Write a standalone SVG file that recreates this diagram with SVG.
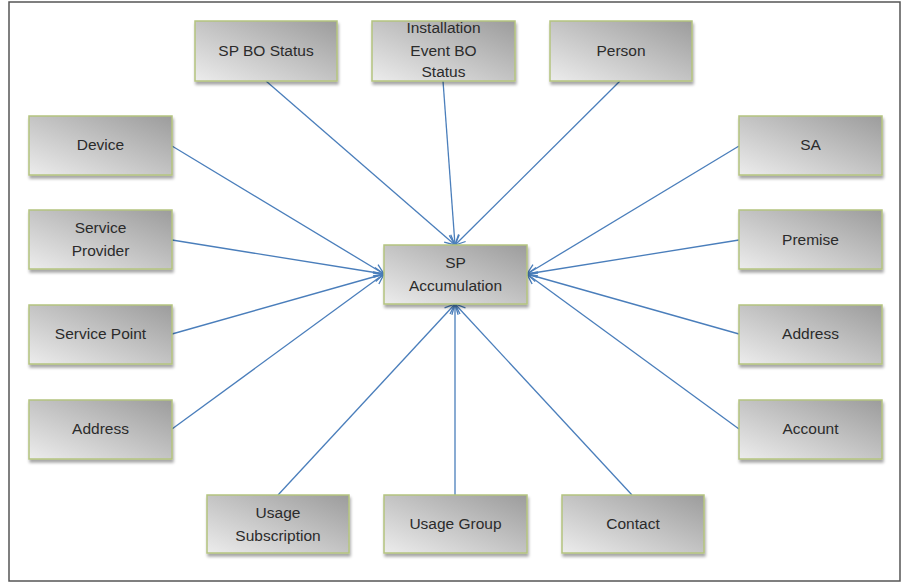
<svg xmlns="http://www.w3.org/2000/svg" width="904" height="583" viewBox="0 0 904 583">
<defs>
<linearGradient id="g" x1="0" y1="1" x2="1" y2="0">
<stop offset="0" stop-color="#ececec"/>
<stop offset="1" stop-color="#9c9c9c"/>
</linearGradient>
<filter id="sh" x="-10%" y="-10%" width="125%" height="135%">
<feDropShadow dx="1" dy="3" stdDeviation="1.5" flood-color="#000" flood-opacity="0.35"/>
</filter>
<marker id="arr" markerWidth="12" markerHeight="12" refX="11" refY="6" orient="auto" markerUnits="userSpaceOnUse">
<path d="M1,1 L11,6 L1,11" fill="none" stroke="#4a7ebb" stroke-width="1.3"/>
</marker>
</defs>
<style>
.box{fill:url(#g);stroke:#b4c47f;stroke-width:1.5;filter:url(#sh)}
.t{font-family:"Liberation Sans",Arial,sans-serif;font-size:15.5px;fill:#2b2b2b;text-anchor:middle}
.c{stroke:#4a7ebb;stroke-width:1.3;fill:none;marker-end:url(#arr)}
</style>
<rect x="0" y="0" width="904" height="583" fill="#fff"/>
<rect x="9" y="2" width="891" height="579" fill="#fff" stroke="#555" stroke-width="1.5"/>
<g id="connectors">
<line class="c" x1="266" y1="81" x2="455" y2="245"/>
<line class="c" x1="443" y1="81" x2="455" y2="245"/>
<line class="c" x1="620" y1="81" x2="455" y2="245"/>
<line class="c" x1="172" y1="146" x2="384" y2="274"/>
<line class="c" x1="172" y1="240" x2="384" y2="274"/>
<line class="c" x1="172" y1="334" x2="384" y2="274"/>
<line class="c" x1="172" y1="429" x2="384" y2="274"/>
<line class="c" x1="739" y1="146" x2="527" y2="274"/>
<line class="c" x1="739" y1="240" x2="527" y2="274"/>
<line class="c" x1="739" y1="334" x2="527" y2="274"/>
<line class="c" x1="739" y1="429" x2="527" y2="274"/>
<line class="c" x1="278" y1="495" x2="455" y2="304"/>
<line class="c" x1="455" y1="495" x2="455" y2="304"/>
<line class="c" x1="632" y1="495" x2="455" y2="304"/>
</g>
<g id="sp-accumulation"><rect class="box" x="384" y="245" width="143" height="59"/><text class="t" x="455.5" y="268">SP</text><text class="t" x="455.5" y="291">Accumulation</text></g>
<g id="sp-bo-status"><rect class="box" x="195" y="21" width="142" height="60"/><text class="t" x="266" y="56">SP BO Status</text></g>
<g id="installation-event-bo-status"><rect class="box" x="372" y="21" width="143" height="60"/><text class="t" x="443.5" y="33">Installation</text><text class="t" x="443.5" y="56">Event BO</text><text class="t" x="443.5" y="77">Status</text></g>
<g id="person"><rect class="box" x="550" y="21" width="142" height="60"/><text class="t" x="621" y="56">Person</text></g>
<g id="device"><rect class="box" x="29" y="116" width="143" height="59"/><text class="t" x="100.5" y="150">Device</text></g>
<g id="service-provider"><rect class="box" x="29" y="210" width="143" height="59"/><text class="t" x="100.5" y="233">Service</text><text class="t" x="100.5" y="256">Provider</text></g>
<g id="service-point"><rect class="box" x="29" y="305" width="143" height="59"/><text class="t" x="100.5" y="339">Service Point</text></g>
<g id="address-left"><rect class="box" x="29" y="400" width="143" height="59"/><text class="t" x="100.5" y="434">Address</text></g>
<g id="sa"><rect class="box" x="739" y="116" width="143" height="59"/><text class="t" x="810.5" y="150">SA</text></g>
<g id="premise"><rect class="box" x="739" y="210" width="143" height="59"/><text class="t" x="810.5" y="245">Premise</text></g>
<g id="address-right"><rect class="box" x="739" y="305" width="143" height="59"/><text class="t" x="810.5" y="339">Address</text></g>
<g id="account"><rect class="box" x="739" y="400" width="143" height="59"/><text class="t" x="810.5" y="434">Account</text></g>
<g id="usage-subscription"><rect class="box" x="207" y="495" width="142" height="58"/><text class="t" x="278" y="518">Usage</text><text class="t" x="278" y="541">Subscription</text></g>
<g id="usage-group"><rect class="box" x="384" y="495" width="143" height="58"/><text class="t" x="455.5" y="529">Usage Group</text></g>
<g id="contact"><rect class="box" x="562" y="495" width="142" height="58"/><text class="t" x="633" y="529">Contact</text></g>
</svg>
